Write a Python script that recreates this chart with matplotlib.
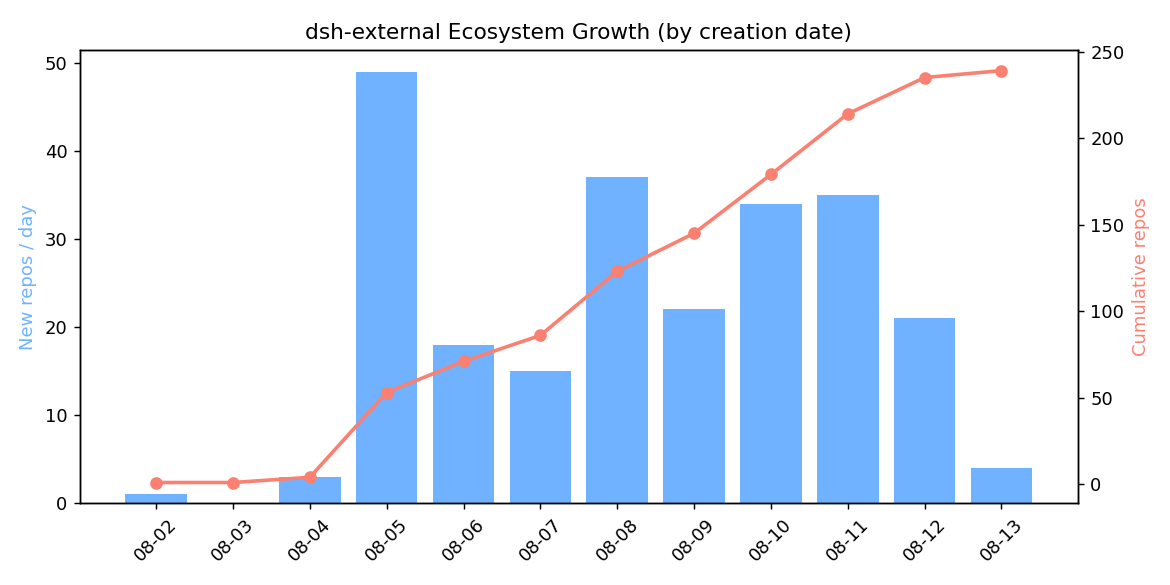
import numpy as np
import matplotlib.pyplot as plt

days = ["08-02", "08-03", "08-04", "08-05", "08-06", "08-07",
        "08-08", "08-09", "08-10", "08-11", "08-12", "08-13"]
new_repos = [1, 0, 3, 49, 18, 15, 37, 22, 34, 35, 21, 4]
cumulative = np.cumsum(new_repos)

bar_color = "#70b2ff"
line_color = "salmon"

fig, ax1 = plt.subplots(figsize=(9, 4.5), dpi=130)
x = np.arange(len(days))

ax1.bar(x, new_repos, color=bar_color)
ax1.set_ylabel("New repos / day", color=bar_color)
ax1.set_xticks(x)
ax1.set_xticklabels(days, rotation=45)

ax2 = ax1.twinx()
ax2.plot(x, cumulative, color=line_color, marker="o", linewidth=2)
ax2.set_ylabel("Cumulative repos", color=line_color)

ax1.set_title("dsh-external Ecosystem Growth (by creation date)")
fig.subplots_adjust(left=0.0684, right=0.921, bottom=0.140, top=0.9145)
fig.savefig("out.png")
